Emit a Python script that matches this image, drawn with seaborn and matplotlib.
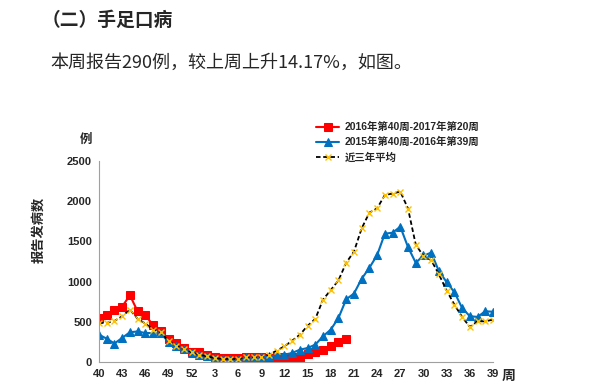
import matplotlib
matplotlib.use("Agg")
import matplotlib.pyplot as plt
import numpy as np
import pandas as pd
import seaborn as sns

# week labels: 2016 wk40 .. wk52, then wk1 .. wk39
weeks = list(range(40, 53)) + list(range(1, 40))

# 2016年第40周-2017年第20周 (33 weeks reported so far)
cases_2016_17 = [550, 580, 645, 690, 830, 630, 580, 460, 380, 290, 235,
                 175, 125, 130, 85, 60, 45, 45, 55, 60, 60, 60, 55,
                 60, 60, 62, 55, 105, 125, 155, 195, 254, 290]

# 2015年第40周-2016年第39周
cases_2015_16 = [340, 290, 230, 300, 370, 380, 360, 360, 355, 250, 195,
                 165, 112, 91, 70, 50, 37, 37, 20,
                 57, 50, 57, 70,
                 82, 91, 112, 153, 174, 216, 320, 403, 548, 780,
                 851, 1035, 1172, 1329, 1596, 1608, 1683, 1429, 1234,
                 1325, 1359, 1130, 993, 868, 673, 569, 561, 631, 625]

# 近三年平均
cases_avg3 = [486, 486, 511, 569, 652, 536, 478, 403, 374, 257, 203,
              166, 120, 91, 70, 50, 37, 41, 37,
              57, 60, 65, 91,
              141, 195, 265, 340, 450, 536, 777, 895, 1016, 1235,
              1372, 1662, 1858, 1911, 2077, 2095, 2120, 1908, 1460,
              1317, 1267, 1089, 889, 714, 561, 436, 506, 506, 527]

series_names = ["2016年第40周-2017年第20周", "2015年第40周-2016年第39周", "近三年平均"]

sns.set_style("white")
plt.rcParams['font.family'] = ['Liberation Sans', 'Noto Sans CJK SC']
cjk = ['Noto Sans CJK SC', 'DejaVu Sans']

fig = plt.figure(figsize=(6, 3.9), dpi=100)
ax = fig.add_axes([99 / 600, 28 / 390, 394 / 600, 201 / 390])

df_red = pd.DataFrame({"idx": np.arange(len(cases_2016_17)), "cases": cases_2016_17})
df_blue = pd.DataFrame({"idx": np.arange(len(cases_2015_16)), "cases": cases_2015_16})
df_avg = pd.DataFrame({"idx": np.arange(len(cases_avg3)), "cases": cases_avg3})

sns.lineplot(data=df_red, x="idx", y="cases", ax=ax, color="#FF0000", lw=1.5,
             marker="s", markersize=6, markeredgecolor="#FF0000", label=series_names[0])
sns.lineplot(data=df_blue, x="idx", y="cases", ax=ax, color="#0070C0", lw=1.5,
             marker="^", markersize=5.5, markeredgecolor="#0070C0", label=series_names[1])
sns.lineplot(data=df_avg, x="idx", y="cases", ax=ax, color="black", lw=1.3,
             linestyle=(0, (2.5, 1.5)), marker="x", markersize=4.5, markeredgewidth=1.0,
             markeredgecolor="#FFC000", label=series_names[2])

ax.set_xlim(0, len(weeks) - 1)
ax.set_ylim(0, 2500)
tick_pos = list(range(0, len(weeks), 3))
ax.set_xticks(tick_pos)
ax.set_xticklabels([str(weeks[i]) for i in tick_pos])
ax.set_yticks([0, 500, 1000, 1500, 2000, 2500])
ax.tick_params(axis="both", direction="out", length=3, width=0.8, color="#A0A0A0",
               labelsize=8, pad=2)
for lab in ax.get_xticklabels() + ax.get_yticklabels():
    lab.set_fontweight("bold")
ax.set_xlabel("")
ax.set_ylabel("报告发病数", family=cjk, fontsize=9.5, fontweight="bold")
ax.yaxis.set_label_coords(-0.137, 0.657)
for side in ["top", "right"]:
    ax.spines[side].set_visible(False)
for side in ["left", "bottom"]:
    ax.spines[side].set_color("#A0A0A0")
    ax.spines[side].set_linewidth(0.8)

ax.get_legend().remove()
handles, labels = ax.get_legend_handles_labels()
leg = fig.legend(handles, labels, loc="upper left", bbox_to_anchor=(312 / 600, 1 - 118 / 390),
                 frameon=False, fontsize=7.5, handlelength=2.2, handletextpad=0.5,
                 labelspacing=0.45, borderaxespad=0)
for t in leg.get_texts():
    t.set_fontweight("bold")

fig.text(86 / 600, 1 - 139 / 390, "例", family=cjk, fontsize=9, fontweight="bold",
         ha="center", va="center")
fig.text(509 / 600, 1 - 376 / 390, "周", family=cjk, fontsize=10, fontweight="bold",
         ha="center", va="center")

fig.text(42 / 600, 1 - 20 / 390, "（二）手足口病", family=cjk, fontsize=13.5,
         fontweight="bold", ha="left", va="center")
fig.text(50 / 600, 1 - 63 / 390, "本周报告290例，较上周上升14.17%，如图。", family=cjk,
         fontsize=13, ha="left", va="center")

fig.savefig("out.png", dpi=100)
